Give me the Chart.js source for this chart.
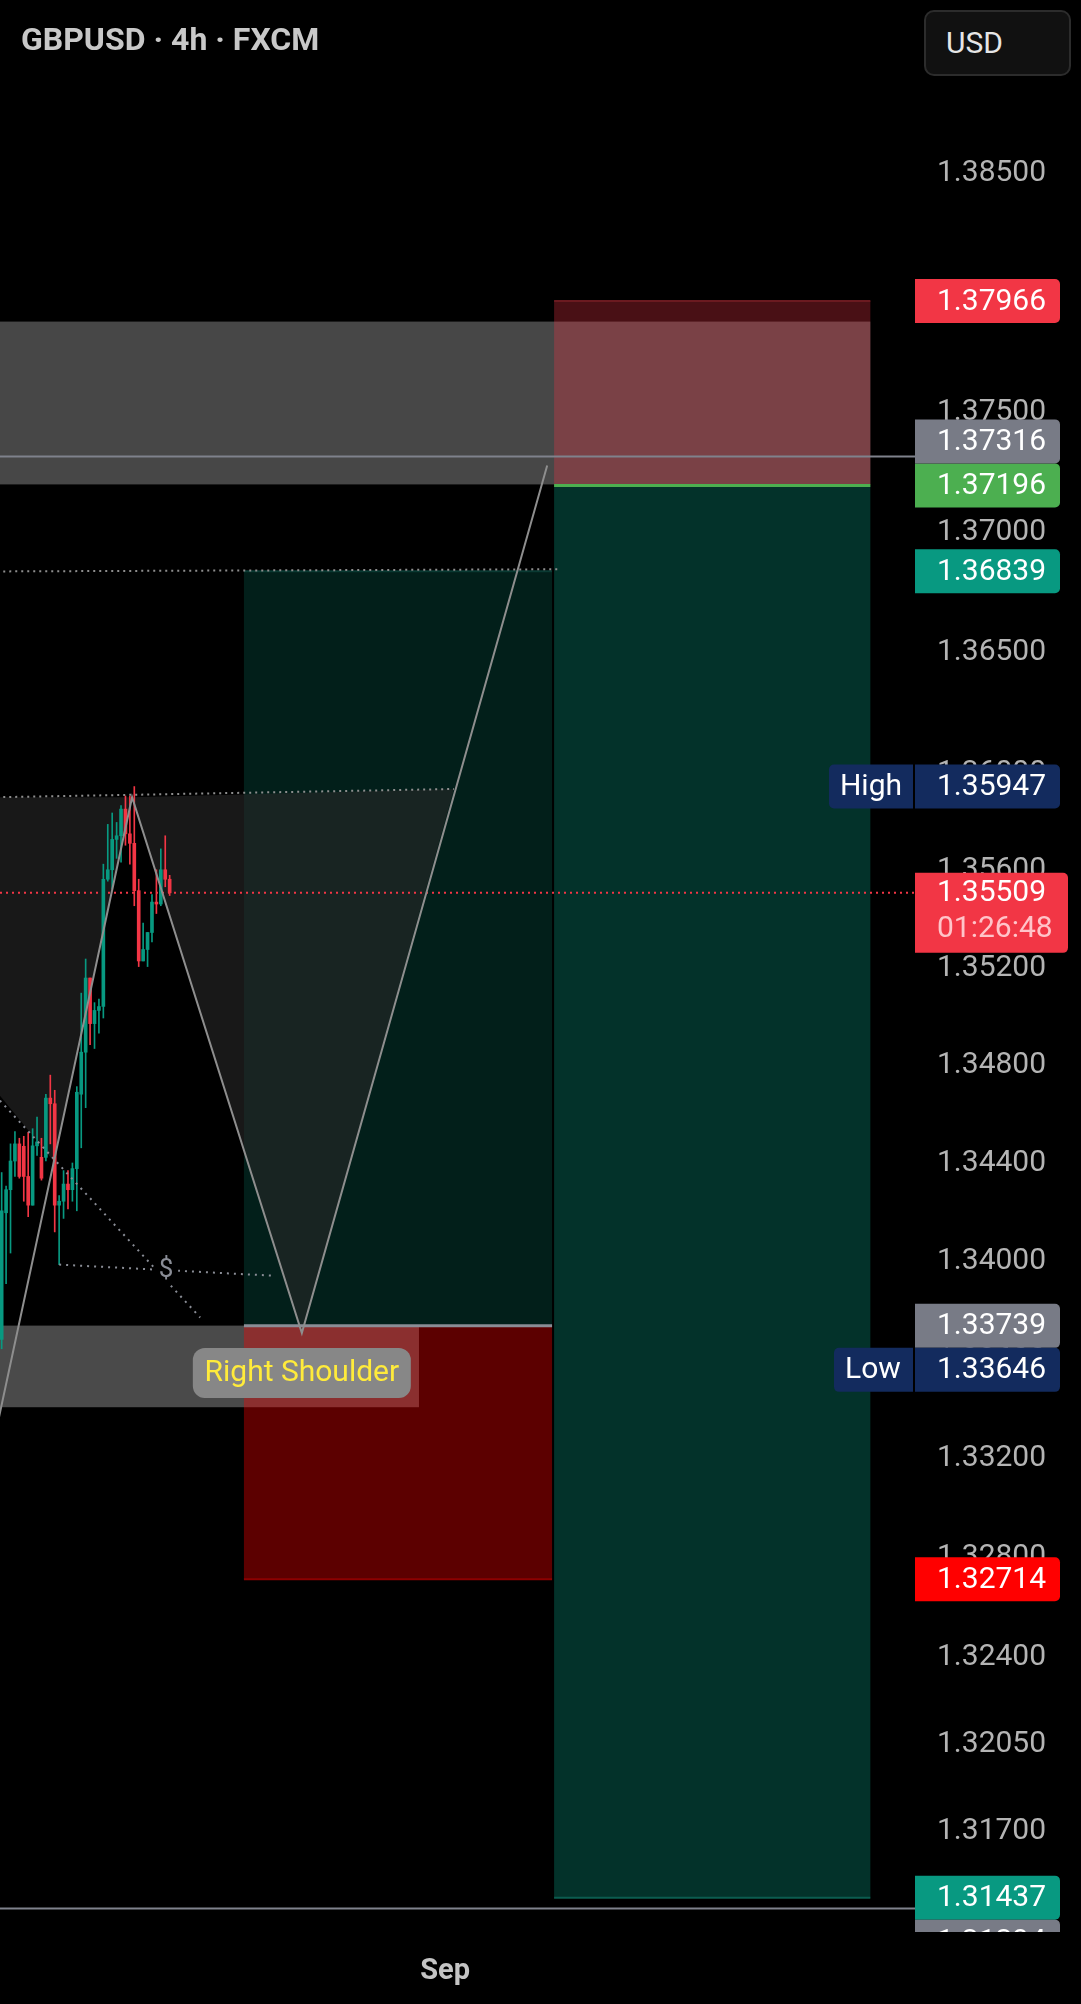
<!DOCTYPE html>
<html>
<head>
<meta charset="utf-8">
<title>GBPUSD 4h</title>
<script src="https://cdn.jsdelivr.net/npm/chart.js@4.4.1/dist/chart.umd.min.js"></script>
<style>
  html, body { margin: 0; padding: 0; background: #000; }
  #wrap { position: relative; width: 1081px; height: 2004px; overflow: hidden; }
  #title { position: absolute; left: 21px; top: 20px; font: bold 32px Roboto, sans-serif; color: #c8c8c8; white-space: nowrap; }
  #unit { position: absolute; left: 924px; top: 10px; width: 147px; height: 66px; box-sizing: border-box;
          border: 2px solid #2c2c2c; border-radius: 10px; background: #111; color: #e6e6e6;
          font: 30px Roboto, sans-serif; line-height: 62px; padding-left: 20px; }
</style>
</head>
<body>
<div id="wrap">
  <canvas id="chart" width="1081" height="2004"></canvas>
  <div id="title">GBPUSD · 4h · FXCM</div>
  <div id="unit">USD</div>
</div>
<script>
// 4h candles, oldest first (bar index 0..38)
var opens  = [1.33684, 1.34199, 1.34293, 1.34410, 1.34480, 1.34470, 1.34347, 1.34230, 1.34472, 1.34425,
              1.34425, 1.34667, 1.34644, 1.34230, 1.34246, 1.34316, 1.34293, 1.34379, 1.34683, 1.34855,
              1.35159, 1.34972, 1.35026, 1.35042, 1.35565, 1.35604, 1.35729, 1.35744, 1.35854, 1.35752,
              1.35713, 1.35518, 1.35229, 1.35276, 1.35346, 1.35471, 1.35463, 1.35604, 1.35565];
var highs  = [1.34363, 1.34308, 1.34480, 1.34530, 1.34503, 1.34511, 1.34527, 1.34542, 1.34589, 1.34503,
              1.34683, 1.34761, 1.34699, 1.34269, 1.34371, 1.34371, 1.34402, 1.34714, 1.35097, 1.35237,
              1.35159, 1.35058, 1.35073, 1.35627, 1.35791, 1.35838, 1.35799, 1.35869, 1.35908, 1.35908,
              1.35947, 1.35565, 1.35385, 1.35346, 1.35502, 1.35604, 1.35690, 1.35744, 1.35581];
var lows   = [1.33646, 1.33910, 1.34035, 1.34347, 1.34340, 1.34246, 1.34183, 1.34230, 1.34433, 1.34332,
              1.34410, 1.34480, 1.34121, 1.33988, 1.34176, 1.34215, 1.34246, 1.34207, 1.34464, 1.34628,
              1.34886, 1.34870, 1.34933, 1.34995, 1.35557, 1.35526, 1.35651, 1.35635, 1.35705, 1.35627,
              1.35456, 1.35206, 1.35229, 1.35206, 1.35307, 1.35424, 1.35456, 1.35534, 1.35498];
var closes = [1.34207, 1.34293, 1.34410, 1.34480, 1.34347, 1.34347, 1.34230, 1.34472, 1.34488, 1.34340,
              1.34667, 1.34644, 1.34230, 1.34246, 1.34316, 1.34293, 1.34379, 1.34691, 1.34855, 1.35159,
              1.34972, 1.35026, 1.35042, 1.35565, 1.35604, 1.35729, 1.35744, 1.35854, 1.35752, 1.35713,
              1.35518, 1.35229, 1.35276, 1.35346, 1.35471, 1.35463, 1.35604, 1.35565, 1.35509];

var priceTicks = [1.385, 1.375, 1.37, 1.365, 1.36, 1.356, 1.352, 1.348, 1.344, 1.34,
                  1.336, 1.332, 1.328, 1.324, 1.3205, 1.317];
var timeTicks = [100.3];
var timeLabels = ["Sep"];
var countdown = "01:26:48";

// visible window (bar index / price)
var barRange = [-0.378, 206.6];
var priceRange = [1.31300, 1.39233];

// head & shoulders drawing
var patternBars   = [-7.2, 29.5, 67.9, 123.4];
var patternPrices = [1.3282, 1.35903, 1.3371, 1.37279];
var necklineBars   = [-1, 102.3];
var necklinePrices = [1.35903, 1.35937];
var leftFillBars   = [-1, 29.5, 11.84, -1];
var leftFillPrices = [1.35903, 1.35903, 1.34407, 1.34690];

// dotted trend lines
var levelLineBars   = [-1, 126.3];
var levelLinePrices = [1.36838, 1.36847];
var sweepBars   = [-0.4, 44.9];
var sweepPrices = [1.34657, 1.33773];
var lowLineBars   = [13.0, 61.2];
var lowLinePrices = [1.33988, 1.33943];
var dollarMark = [37.2, 1.33965];

// zones
var upperZoneBars   = [-1, 196.5];
var upperZonePrices = [1.37200, 1.37880];
var lowerZoneBars   = [-1, 94.4];
var lowerZonePrices = [1.33409, 1.33740];

// positions: entry, stop, target
var shortBars = [124.96, 196.5];
var shortLevels = [1.37196, 1.37966, 1.31437];
var longBars = [54.8, 124.5];
var longLevels = [1.33739, 1.32714, 1.36839];

// horizontal lines
var hLinePrices = [1.37316, 1.31394];

var up = '#089981', down = '#f23645';
var idx = opens.map(function (o, i) { return i; });
var colors = idx.map(function (i) { return closes[i] >= opens[i] ? up : down; });
var lastClose = closes[closes.length - 1];
var visHigh = Math.max.apply(null, highs);
var visLow = Math.min.apply(null, lows);

function lineSet(xs, ys, color, dash, width) {
  return {
    type: 'line',
    data: xs.map(function (x, i) { return { x: x, y: ys[i] }; }),
    borderColor: color, borderWidth: width, borderDash: dash,
    pointRadius: 0, tension: 0, fill: false, order: 0
  };
}

function noPad(s) {
  s.paddingTop = 0; s.paddingBottom = 0; s.paddingLeft = 0; s.paddingRight = 0;
}

var overlay = {
  id: 'overlay',
  beforeDatasetsDraw: function (chart) {
    var ctx = chart.ctx, xs = chart.scales.x, ys = chart.scales.y, a = chart.chartArea;
    function px(v) { return xs.getPixelForValue(v); }
    function py(v) { return ys.getPixelForValue(v); }
    function box(b, p, color) {
      var l = px(b[0]), r = px(b[1]);
      var t = py(Math.max(p[0], p[1])), btm = py(Math.min(p[0], p[1]));
      ctx.fillStyle = color;
      ctx.fillRect(l, t, r - l, btm - t);
    }
    function hline(b, p, color, w) {
      ctx.strokeStyle = color; ctx.lineWidth = w;
      ctx.beginPath(); ctx.moveTo(px(b[0]), py(p)); ctx.lineTo(px(b[1]), py(p)); ctx.stroke();
    }
    function poly(bs, ps, color) {
      ctx.fillStyle = color;
      ctx.beginPath();
      bs.forEach(function (b, i) { if (i === 0) ctx.moveTo(px(b), py(ps[i])); else ctx.lineTo(px(b), py(ps[i])); });
      ctx.closePath(); ctx.fill();
    }
    ctx.save();
    ctx.beginPath(); ctx.rect(a.left, a.top, a.right - a.left, a.bottom - a.top); ctx.clip();

    box(upperZoneBars, upperZonePrices, '#474747');
    box(lowerZoneBars, lowerZonePrices, '#4a4a4a');

    // short position
    box(shortBars, [shortLevels[0], shortLevels[2]], 'rgba(8,153,129,0.33)');
    box(shortBars, [shortLevels[0], shortLevels[1]], 'rgba(242,54,69,0.3)');
    // long position
    box(longBars, [longLevels[0], longLevels[2]], 'rgba(8,153,129,0.2)');
    box(longBars, [longLevels[0], longLevels[1]], 'rgba(255,0,0,0.36)');

    // pattern fills
    poly(leftFillBars, leftFillPrices, 'rgba(40,40,40,0.6)');
    poly([patternBars[1], patternBars[2], necklineBars[1]],
         [patternPrices[1], patternPrices[2], necklinePrices[1]], 'rgba(40,40,40,0.6)');

    // position edges
    hline(shortBars, shortLevels[1], '#6b1a20', 2);
    hline(shortBars, shortLevels[2], '#0b5c4f', 2);
    hline(shortBars, shortLevels[0], '#4caf50', 3);
    hline(longBars, longLevels[1], '#8c0000', 2);
    hline(longBars, longLevels[2], '#0a3a33', 2);
    hline(longBars, longLevels[0], '#8a8d96', 3);

    // full width lines
    hLinePrices.forEach(function (p) { hline(barRange, p, '#7f828c', 2); });

    // last price
    ctx.setLineDash([2, 4]);
    hline(barRange, lastClose, down, 2);
    ctx.setLineDash([]);
    ctx.restore();
  },
  afterDatasetsDraw: function (chart) {
    var ctx = chart.ctx, xs = chart.scales.x, ys = chart.scales.y;
    ctx.save();
    // $ marker
    var dx = xs.getPixelForValue(dollarMark[0]), dy = ys.getPixelForValue(dollarMark[1]);
    ctx.fillStyle = '#000';
    ctx.fillRect(dx - 12, dy - 14, 24, 28);
    ctx.fillStyle = '#8a8d96';
    ctx.font = '26px Roboto';
    ctx.textAlign = 'center'; ctx.textBaseline = 'middle';
    ctx.fillText('$', dx, dy);

    // Right Shoulder tag
    var sx = xs.getPixelForValue(patternBars[2]), sy = ys.getPixelForValue(patternPrices[2]) + 40;
    ctx.fillStyle = '#878787';
    ctx.beginPath(); ctx.roundRect(sx - 109, sy - 25, 218, 50, 12); ctx.fill();
    ctx.fillStyle = '#ffeb3b';
    ctx.font = '30px Roboto';
    ctx.fillText('Right Shoulder', sx, sy + 1);
    ctx.restore();
  },
  afterDraw: function (chart) {
    var ctx = chart.ctx, ys = chart.scales.y, a = chart.chartArea;
    var labels = [
      { v: shortLevels[1], bg: '#f23645' },
      { v: shortLevels[0], bg: '#4caf50' },
      { v: longLevels[2], bg: '#089981' },
      { v: visHigh, bg: '#132b5e', tag: 'High' },
      { v: lastClose, bg: '#f23645', sub: countdown },
      { v: longLevels[0], bg: '#787b86' },
      { v: longLevels[1], bg: '#ff0000' },
      { v: shortLevels[2], bg: '#089981' },
      { v: hLinePrices[0], bg: '#787b86' },
      { v: visLow, bg: '#132b5e', tag: 'Low' },
      { v: hLinePrices[1], bg: '#787b86' }
    ];
    // stack labels so they do not overlap
    var placed = [];
    labels.forEach(function (lb) {
      var y = ys.getPixelForValue(lb.v);
      var top = lb.sub ? 20 : 22, bot = lb.sub ? 60 : 22;
      var shift = 0;
      for (var k = 0; k < 12; k++) {
        var hit = null;
        placed.forEach(function (p) { if (y - top + shift < p[1] && y + bot + shift > p[0]) hit = p; });
        if (!hit) break;
        var mu = hit[0] - (y + bot + shift), md = hit[1] - (y - top + shift);
        shift += Math.abs(mu) <= Math.abs(md) ? mu : md;
      }
      placed.push([y - top + shift, y + bot + shift]);
      lb.y = y + shift; lb.top = top; lb.bot = bot;
    });

    ctx.save();
    ctx.beginPath(); ctx.rect(0, a.top, chart.width, a.bottom - a.top); ctx.clip();
    ctx.textBaseline = 'middle';
    ctx.font = '30px Roboto';
    labels.forEach(function (lb) {
      var right = lb.sub ? 1068 : 1060;
      ctx.fillStyle = lb.bg;
      ctx.beginPath(); ctx.roundRect(915, lb.y - lb.top, right - 915, lb.top + lb.bot, [0, 5, 5, 0]); ctx.fill();
      if (lb.tag) {
        ctx.beginPath(); ctx.roundRect(lb.tag === 'Low' ? 834 : 829, lb.y - 22, lb.tag === 'Low' ? 79 : 84, 44, [5, 0, 0, 5]); ctx.fill();
        ctx.fillStyle = '#fff'; ctx.textAlign = 'center';
        ctx.fillText(lb.tag, lb.tag === 'Low' ? 873 : 871, lb.y + 1);
      }
      ctx.fillStyle = '#fff'; ctx.textAlign = 'left';
      ctx.fillText(lb.v.toFixed(5), 937, lb.y + 1);
      if (lb.sub) {
        ctx.fillStyle = '#ffc4c9';
        ctx.fillText(lb.sub, 937, lb.y + 37);
      }
    });
    ctx.restore();
  }
};

new Chart(document.getElementById('chart'), {
  type: 'bar',
  data: {
    datasets: [
      lineSet(patternBars, patternPrices, '#8e8e8e', [], 2),
      lineSet(necklineBars, necklinePrices, '#8e8e8e', [2, 4], 2),
      lineSet(levelLineBars, levelLinePrices, '#8e8e8e', [2, 4], 2),
      lineSet(sweepBars, sweepPrices, '#8a8d96', [2, 5], 2),
      lineSet(lowLineBars, lowLinePrices, '#8a8d96', [2, 5], 2),
      {
        label: 'wick', order: 1, grouped: false,
        data: idx.map(function (i) { return { x: i, y: [lows[i], highs[i]] }; }),
        backgroundColor: colors, barThickness: 1, minBarLength: 1
      },
      {
        label: 'body', order: 1, grouped: false,
        data: idx.map(function (i) { return { x: i, y: [Math.min(opens[i], closes[i]), Math.max(opens[i], closes[i])] }; }),
        backgroundColor: colors, barThickness: 3, minBarLength: 1
      }
    ]
  },
  options: {
    responsive: false,
    animation: false,
    events: [],
    devicePixelRatio: 1,
    layout: { padding: 0 },
    plugins: { legend: { display: false }, tooltip: { enabled: false } },
    scales: {
      x: {
        type: 'linear', min: barRange[0], max: barRange[1], bounds: 'data', offset: false,
        grid: { display: false, drawTicks: false }, border: { display: false },
        afterFit: function (s) { s.height = 72; noPad(s); },
        afterBuildTicks: function (s) { s.ticks = timeTicks.map(function (v) { return { value: v }; }); },
        ticks: {
          autoSkip: false, maxRotation: 0, padding: 22, color: '#c4c4c4',
          font: { family: 'Roboto', size: 29, weight: 'bold' },
          callback: function (v, i) { return timeLabels[i]; }
        }
      },
      y: {
        type: 'logarithmic', position: 'right', min: priceRange[0], max: priceRange[1], bounds: 'data',
        grid: { display: false, drawTicks: false }, border: { display: false },
        afterFit: function (s) { s.width = 166; noPad(s); },
        afterBuildTicks: function (s) { s.ticks = priceTicks.map(function (v) { return { value: v }; }); },
        ticks: {
          autoSkip: false, padding: 22, crossAlign: 'near', color: '#b4b4b4',
          font: { family: 'Roboto', size: 30 },
          callback: function (v) { return v.toFixed(5); }
        }
      }
    }
  },
  plugins: [overlay]
});
</script>
</body>
</html>
